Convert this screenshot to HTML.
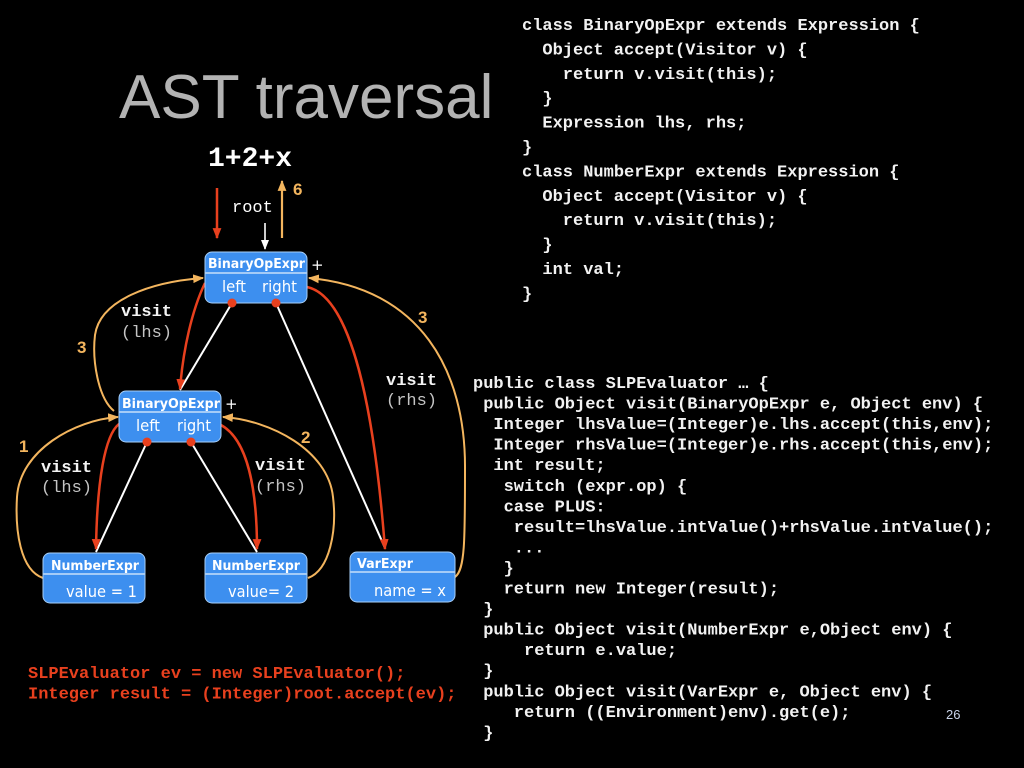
<!DOCTYPE html>
<html><head><meta charset="utf-8"><style>
html,body{margin:0;padding:0;background:#000;}
svg{display:block;}
.code{font-family:"Liberation Mono","DejaVu Sans Mono",monospace;font-weight:bold;font-size:17px;fill:#f2f2f2;}
.red{fill:#e8401e;}
.lbl{font-family:"Liberation Mono",monospace;font-size:17px;}
.b{font-weight:bold;fill:#f4f4f4;}
.g{fill:#c4c4c4;}
.num{font-family:"Liberation Sans",sans-serif;font-weight:bold;font-size:17px;fill:#f3b55e;}
.hd{font-family:"DejaVu Sans",sans-serif;font-weight:bold;font-size:13px;fill:#fff;}
.bd{font-family:"DejaVu Sans",sans-serif;font-size:16px;fill:#fff;}
.box{fill:#3d8fef;stroke:#a8cff8;stroke-width:1;}
.div{stroke:#e3effc;stroke-width:1.2;}
</style></head><body>
<svg width="1024" height="768" viewBox="0 0 1024 768" xmlns="http://www.w3.org/2000/svg">
<defs>
<marker id="ao" viewBox="0 0 10 10" refX="9" refY="5" markerWidth="11" markerHeight="11" markerUnits="userSpaceOnUse" orient="auto"><path d="M0,1 L10,5 L0,9 z" fill="#f3b55e"/></marker>
<marker id="ar" viewBox="0 0 10 10" refX="9" refY="5" markerWidth="11" markerHeight="11" markerUnits="userSpaceOnUse" orient="auto"><path d="M0,1 L10,5 L0,9 z" fill="#e8401e"/></marker>
<marker id="aw" viewBox="0 0 10 10" refX="9" refY="5" markerWidth="10" markerHeight="10" markerUnits="userSpaceOnUse" orient="auto"><path d="M0,1 L10,5 L0,9 z" fill="#fff"/></marker>
</defs>
<rect width="1024" height="768" fill="#000"/>

<!-- Title -->
<text x="119" y="118" font-family="Liberation Sans, sans-serif" font-size="62" fill="#b3b3b3">AST traversal</text>

<!-- top code -->
<g class="code">
<text x="522" y="30">class BinaryOpExpr extends Expression {</text>
<text x="542.4" y="54.4">Object accept(Visitor v) {</text>
<text x="562.8" y="78.8">return v.visit(this);</text>
<text x="542.4" y="103.2">}</text>
<text x="542.4" y="127.6">Expression lhs, rhs;</text>
<text x="522" y="152">}</text>
<text x="522" y="176.4">class NumberExpr extends Expression {</text>
<text x="542.4" y="200.8">Object accept(Visitor v) {</text>
<text x="562.8" y="225.2">return v.visit(this);</text>
<text x="542.4" y="249.6">}</text>
<text x="542.4" y="274">int val;</text>
<text x="522" y="298.4">}</text>
</g>

<!-- bottom code -->
<g class="code">
<text x="473" y="388">public class SLPEvaluator … {</text>
<text x="483.2" y="408.6">public Object visit(BinaryOpExpr e, Object env) {</text>
<text x="493.4" y="429.1">Integer lhsValue=(Integer)e.lhs.accept(this,env);</text>
<text x="493.4" y="449.7">Integer rhsValue=(Integer)e.rhs.accept(this,env);</text>
<text x="493.4" y="470.2">int result;</text>
<text x="503.6" y="490.8">switch (expr.op) {</text>
<text x="503.6" y="511.3">case PLUS:</text>
<text x="513.8" y="531.9">result=lhsValue.intValue()+rhsValue.intValue();</text>
<text x="513.8" y="552.4">...</text>
<text x="503.6" y="573">}</text>
<text x="503.6" y="593.5">return new Integer(result);</text>
<text x="483.2" y="614.1">}</text>
<text x="483.2" y="634.6">public Object visit(NumberExpr e,Object env) {</text>
<text x="524" y="655.2">return e.value;</text>
<text x="483.2" y="675.7">}</text>
<text x="483.2" y="696.3">public Object visit(VarExpr e, Object env) {</text>
<text x="513.8" y="716.8">return ((Environment)env).get(e);</text>
<text x="483.2" y="737.4">}</text>
</g>

<!-- red code -->
<g class="code red">
<text x="28" y="678" class="red">SLPEvaluator ev = new SLPEvaluator();</text>
<text x="28" y="698.5" class="red">Integer result = (Integer)root.accept(ev);</text>
</g>

<text x="946" y="719" font-family="Liberation Sans, sans-serif" font-size="13" fill="#c9d3e8">26</text>

<!-- expression label -->
<text x="208" y="166" font-family="Liberation Mono, monospace" font-weight="bold" font-size="28" fill="#fff">1+2+x</text>
<text x="232" y="212" class="lbl" fill="#fff">root</text>

<!-- top arrows -->
<line x1="217" y1="188" x2="217" y2="238" stroke="#e8401e" stroke-width="2.5" marker-end="url(#ar)"/>
<line x1="282" y1="238" x2="282" y2="181" stroke="#f3b55e" stroke-width="2.2" marker-end="url(#ao)"/>
<line x1="265" y1="223" x2="265" y2="249" stroke="#fff" stroke-width="1.6" marker-end="url(#aw)"/>
<text x="293" y="195" class="num">6</text>

<!-- white tree edges -->
<g stroke="#fff" stroke-width="2" fill="none">
<line x1="232" y1="303" x2="180" y2="390"/>
<line x1="276" y1="303" x2="385" y2="548"/>
<line x1="147" y1="442" x2="96" y2="552"/>
<line x1="191" y1="442" x2="257" y2="552"/>
</g>

<!-- red call curves -->
<g stroke="#e8401e" stroke-width="2.5" fill="none">
<path d="M205,283 C192,310 183,350 180,389" marker-end="url(#ar)"/>
<path d="M307,287 C345,295 372,380 385,549" marker-end="url(#ar)"/>
<path d="M119,424 C105,435 97,480 96,549" marker-end="url(#ar)"/>
<path d="M221,425 C248,440 257,490 257,549" marker-end="url(#ar)"/>
</g>

<!-- orange return curves -->
<g stroke="#f3b55e" stroke-width="2" fill="none">
<path d="M114,411 C98,398 92,360 95,335 C100,300 150,282 203,278" marker-end="url(#ao)"/>
<path d="M43,578 C20,570 15,530 17,497 C20,450 75,420 118,417" marker-end="url(#ao)"/>
<path d="M308,578 C330,570 337,530 333,497 C328,450 270,420 223,417" marker-end="url(#ao)"/>
<path d="M455,577 C465,570 465,540 465,470 C466,370 420,288 309,278" marker-end="url(#ao)"/>
</g>

<!-- labels -->
<text x="121" y="316" class="lbl b">visit</text>
<text x="121" y="337" class="lbl g">(lhs)</text>
<text x="386" y="385" class="lbl b">visit</text>
<text x="386" y="405" class="lbl g">(rhs)</text>
<text x="41" y="472" class="lbl b">visit</text>
<text x="41" y="492" class="lbl g">(lhs)</text>
<text x="255" y="470" class="lbl b">visit</text>
<text x="255" y="491" class="lbl g">(rhs)</text>
<text x="77" y="353" class="num">3</text>
<text x="418" y="323" class="num">3</text>
<text x="19" y="452" class="num">1</text>
<text x="301" y="443" class="num">2</text>

<!-- root node -->
<rect x="205" y="252" width="102" height="51" rx="7" class="box"/>
<line x1="205.5" y1="273" x2="306.5" y2="273" class="div"/>
<text x="208" y="268" class="hd" textLength="97" lengthAdjust="spacingAndGlyphs">BinaryOpExpr</text>
<text x="222" y="292" class="bd" textLength="24" lengthAdjust="spacingAndGlyphs">left</text>
<text x="262" y="292" class="bd" textLength="35" lengthAdjust="spacingAndGlyphs">right</text>
<text x="311" y="270" font-family="DejaVu Sans, sans-serif" font-size="15" fill="#fff">+</text>
<circle cx="232" cy="303" r="4.5" fill="#e8401e"/>
<circle cx="276" cy="303" r="4.5" fill="#e8401e"/>

<!-- second binary node -->
<rect x="119" y="391" width="102" height="51" rx="7" class="box"/>
<line x1="119.5" y1="412" x2="220.5" y2="412" class="div"/>
<text x="122" y="408" class="hd" textLength="98" lengthAdjust="spacingAndGlyphs">BinaryOpExpr</text>
<text x="136" y="431" class="bd" textLength="24" lengthAdjust="spacingAndGlyphs">left</text>
<text x="177" y="431" class="bd" textLength="34" lengthAdjust="spacingAndGlyphs">right</text>
<text x="225" y="409" font-family="DejaVu Sans, sans-serif" font-size="15" fill="#fff">+</text>
<circle cx="147" cy="442" r="4.5" fill="#e8401e"/>
<circle cx="191" cy="442" r="4.5" fill="#e8401e"/>

<!-- NumberExpr 1 -->
<rect x="43" y="553" width="102" height="50" rx="7" class="box"/>
<line x1="43.5" y1="574" x2="144.5" y2="574" class="div"/>
<text x="51" y="570" class="hd" textLength="88" lengthAdjust="spacingAndGlyphs">NumberExpr</text>
<text x="66" y="597" class="bd" textLength="71" lengthAdjust="spacingAndGlyphs">value = 1</text>

<!-- NumberExpr 2 -->
<rect x="205" y="553" width="102" height="50" rx="7" class="box"/>
<line x1="205.5" y1="574" x2="306.5" y2="574" class="div"/>
<text x="212" y="570" class="hd" textLength="88" lengthAdjust="spacingAndGlyphs">NumberExpr</text>
<text x="228" y="597" class="bd" textLength="66" lengthAdjust="spacingAndGlyphs">value= 2</text>

<!-- VarExpr -->
<rect x="350" y="552" width="105" height="50" rx="7" class="box"/>
<line x1="350.5" y1="572" x2="454.5" y2="572" class="div"/>
<text x="357" y="568" class="hd" textLength="56" lengthAdjust="spacingAndGlyphs">VarExpr</text>
<text x="374" y="596" class="bd" textLength="72" lengthAdjust="spacingAndGlyphs">name = x</text>
</svg>
</body></html>
